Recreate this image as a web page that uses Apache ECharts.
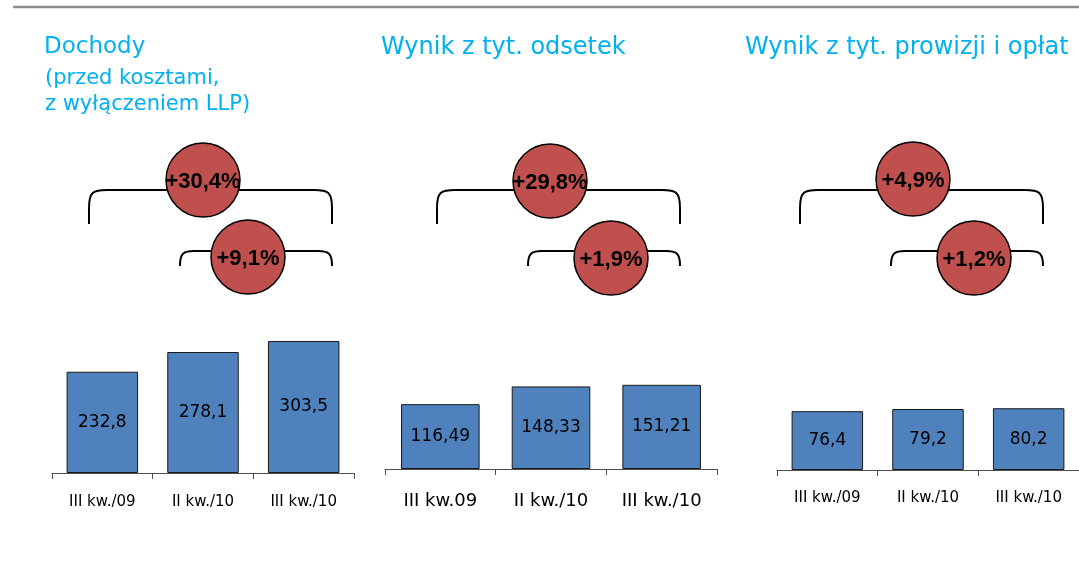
<!DOCTYPE html>
<html>
<head>
<meta charset="utf-8">
<script src="https://cdn.jsdelivr.net/npm/echarts@6/dist/echarts.min.js"></script>
<style>
html, body { margin: 0; padding: 0; background: #fff; }
#main { width: 1079px; height: 562px; }
</style>
</head>
<body>
<div id="main"></div>
<script>
// dane
var categories1 = ['III kw./09', 'II kw./10', 'III kw./10'];
var categories2 = ['III kw.09', 'II kw./10', 'III kw./10'];
var categories3 = ['III kw./09', 'II kw./10', 'III kw./10'];
var dochody = [232.8, 278.1, 303.5];
var odsetki = [116.49, 148.33, 151.21];
var prowizje = [76.4, 79.2, 80.2];
var yearChange = ['+30,4%', '+29,8%', '+4,9%'];
var quarterChange = ['+9,1%', '+1,9%', '+1,2%'];
var titles = ['Dochody', 'Wynik z tyt. odsetek', 'Wynik z tyt. prowizji i opłat'];
var subtitle = ['(przed kosztami,', 'z wyłączeniem LLP)'];

var chart = echarts.init(document.getElementById('main'));

var BLUE = '#00B0F0';
var PCT_FONT = '"Liberation Sans", Arial, sans-serif';
var TEXT_FONT = '"DejaVu Sans", Verdana, sans-serif';

function xAxisFor(idx, cats, fontSize, margin) {
    return {
        type: 'category',
        gridIndex: idx,
        data: cats,
        axisLine: { lineStyle: { color: '#4d4d4d', width: 1 } },
        axisTick: { show: true, length: 6, lineStyle: { color: '#4d4d4d' } },
        axisLabel: { color: '#000', fontSize: fontSize, fontFamily: TEXT_FONT, margin: margin }
    };
}

function yAxisFor(idx, max) {
    return { type: 'value', gridIndex: idx, min: 0, max: max, show: false, splitLine: { show: false } };
}

function barsFor(idx, values) {
    return {
        type: 'bar',
        xAxisIndex: idx,
        yAxisIndex: idx,
        data: values,
        barWidth: '71%',
        itemStyle: { color: '#4F81BD', borderColor: '#1a1a1a', borderWidth: 1 },
        label: {
            show: true,
            position: 'inside',
            color: '#000',
            fontSize: 17,
            fontFamily: TEXT_FONT,
            formatter: function (p) { return String(p.value).replace('.', ','); }
        }
    };
}

// nawiasy i kółka - pozycje
var marks = [
    { bx0: 89, bx1: 332, sx0: 180, sx1: 332, c1: [203, 180], c2: [248, 257] },
    { bx0: 437, bx1: 680, sx0: 528, sx1: 680, c1: [550, 181], c2: [611, 258] },
    { bx0: 800, bx1: 1043, sx0: 891, sx1: 1043, c1: [913, 179], c2: [974, 258] }
];

var LINE = { stroke: '#000', lineWidth: 2, fill: null };

// nawias: pionowe końce + zaokrąglone rogi + pozioma kreska
function bracket(x0, x1, yTop, yBot, r) {
    var yc = yTop + r;
    return [
        { type: 'line', shape: { x1: x0, y1: yBot, x2: x0, y2: yc }, style: LINE },
        { type: 'bezierCurve', shape: { x1: x0, y1: yc, cpx1: x0, cpy1: yTop + 2, cpx2: x0 + 4, cpy2: yTop, x2: x0 + r, y2: yTop }, style: LINE },
        { type: 'line', shape: { x1: x0 + r, y1: yTop, x2: x1 - r, y2: yTop }, style: LINE },
        { type: 'bezierCurve', shape: { x1: x1 - r, y1: yTop, cpx1: x1 - 4, cpy1: yTop, cpx2: x1, cpy2: yTop + 2, x2: x1, y2: yc }, style: LINE },
        { type: 'line', shape: { x1: x1, y1: yc, x2: x1, y2: yBot }, style: LINE }
    ];
}

var graphic = [
    { type: 'line', shape: { x1: 13, y1: 7, x2: 1079, y2: 7 }, style: { stroke: '#8c8c8c', lineWidth: 2.5 } },
    { type: 'text', x: 44, y: 47, style: { text: titles[0], fill: BLUE, fontSize: 23, fontFamily: TEXT_FONT, verticalAlign: 'middle' } },
    { type: 'text', x: 45, y: 79, style: { text: subtitle[0], fill: BLUE, fontSize: 21, fontFamily: TEXT_FONT, verticalAlign: 'middle' } },
    { type: 'text', x: 45, y: 105, style: { text: subtitle[1], fill: BLUE, fontSize: 21, fontFamily: TEXT_FONT, verticalAlign: 'middle' } },
    { type: 'text', x: 381, y: 48, style: { text: titles[1], fill: BLUE, fontSize: 24, fontFamily: TEXT_FONT, verticalAlign: 'middle' } },
    { type: 'text', x: 745, y: 48, style: { text: titles[2], fill: BLUE, fontSize: 24, fontFamily: TEXT_FONT, verticalAlign: 'middle' } }
];

marks.forEach(function (m, i) {
    graphic = graphic.concat(bracket(m.bx0, m.bx1, 190, 224, 18));
    graphic = graphic.concat(bracket(m.sx0, m.sx1, 251, 266, 14));
    [[m.c1, yearChange[i]], [m.c2, quarterChange[i]]].forEach(function (c) {
        graphic.push({ type: 'circle', shape: { cx: c[0][0], cy: c[0][1], r: 37 }, style: { fill: '#C0504D', stroke: '#000', lineWidth: 1.5 } });
        graphic.push({
            type: 'text', x: c[0][0], y: c[0][1] + 2,
            style: { text: c[1], fill: '#000', fontSize: 22, fontWeight: 'bold', fontFamily: PCT_FONT, align: 'center', verticalAlign: 'middle' }
        });
    });
});

chart.setOption({
    animation: false,
    grid: [
        { left: 52, width: 302, top: 299, height: 174 },
        { left: 385, width: 332, top: 302, height: 167 },
        { left: 777, width: 303, top: 316, height: 154 }
    ],
    xAxis: [
        xAxisFor(0, categories1, 15, 22),
        xAxisFor(1, categories2, 18, 23),
        xAxisFor(2, categories3, 15, 21)
    ],
    yAxis: [yAxisFor(0, 400), yAxisFor(1, 300), yAxisFor(2, 200)],
    series: [barsFor(0, dochody), barsFor(1, odsetki), barsFor(2, prowizje)],
    graphic: graphic
});
</script>
</body>
</html>
